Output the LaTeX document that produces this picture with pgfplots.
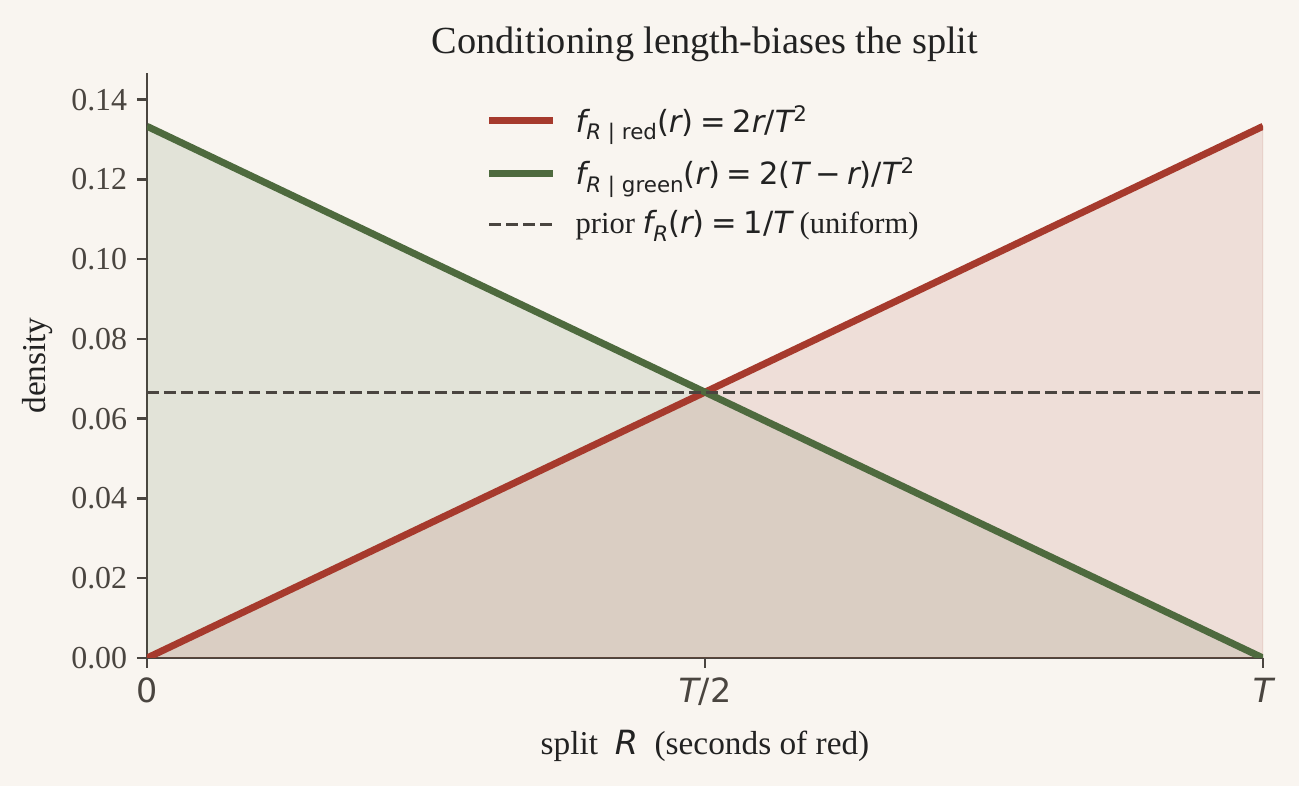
\documentclass[border=0pt]{standalone}
\usepackage{pgfplots}
\pgfplotsset{compat=1.18}
\usepackage{fontspec}
\setmainfont{Liberation Serif}
\newfontfamily\dv{DejaVu Sans}
\definecolor{bg}{HTML}{F9F5F0}
\definecolor{redc}{HTML}{A63A2D}
\definecolor{greenc}{HTML}{4E6A3E}
\definecolor{axc}{HTML}{4A4540}
\definecolor{titlec}{HTML}{222222}
\newcommand{\sub}[1]{\raisebox{-0.45ex}{\fontsize{7.7}{8}\selectfont #1}}
\newcommand{\eq}{\hspace{0.22em}=\hspace{0.22em}}
\begin{document}
\begin{tikzpicture}
\path[use as bounding box, fill=bg] (-52.92pt,-46.08pt) rectangle (414.72pt,236.88pt);
\begin{axis}[at={(0,0)}, anchor=south west, scale only axis,
  width=401.76pt, height=210.6pt,
  xmin=0, xmax=15, ymin=0, ymax=0.1467,
  axis x line*=bottom, axis y line*=left,
  axis line style={draw=axc, line width=0.9pt, -},
  tick style={draw=axc, line width=0.9pt},
  tick align=outside, major tick length=3.6pt,
  xtick={0,7.5,15},
  xticklabels={{\dv 0},{\dv\itshape T\upshape/2},{\dv\itshape T}},
  xticklabel style={font=\fontsize{12}{14}\selectfont, text=axc},
  ytick={0,0.02,0.04,0.06,0.08,0.10,0.12,0.14},
  scaled y ticks=false,
  yticklabel style={/pgf/number format/fixed, /pgf/number format/fixed zerofill, /pgf/number format/precision=2, /pgf/number format/assume math mode=true},
  yticklabel style={font=\fontsize{11.5}{13}\selectfont, text=axc},
  xlabel={split \ {\dv\itshape R}\ \ (seconds of red)},
  xlabel style={yshift=-1.8pt},
  ylabel={density},
  label style={font=\fontsize{12}{14}\selectfont, text=titlec},
  title={Conditioning length-biases the split},
  title style={font=\fontsize{13.8}{15}\selectfont, text=titlec, yshift=-5.4pt},
  legend style={draw=none, fill=none, at={(0.5,0.965)}, anchor=north,
    font=\fontsize{11}{13}\selectfont, text=titlec, row sep=3.8pt},
  legend cell align=left,
  legend image code/.code={\draw[#1] (0cm,0cm) -- (0.8cm,0cm); \path (0.8cm+5pt,0cm);},
]
\addplot[draw=none, fill=greenc, fill opacity=0.13, forget plot] coordinates {(0,0.133333) (15,0)} \closedcycle;
\addplot[draw=redc, draw opacity=0.12, fill=redc, fill opacity=0.12, forget plot] coordinates {(0,0) (15,0.133333)} \closedcycle;
\addplot[redc, line width=2.5pt] coordinates {(0,0) (15,0.133333)};
\addlegendentry{{\dv\itshape f\sub{R \upshape| red}\upshape(\itshape r\upshape)\eq 2\itshape r\upshape/\itshape T\upshape\textsuperscript{2}}}
\addplot[greenc, line width=2.5pt] coordinates {(0,0.133333) (15,0)};
\addlegendentry{{\dv\itshape f\sub{R \upshape| green}\upshape(\itshape r\upshape)\eq 2(\itshape T\upshape\hspace{0.2em}−\hspace{0.2em}\itshape r\upshape)/\itshape T\upshape\textsuperscript{2}}}
\addplot[axc, line width=1.1pt, dash pattern=on 4.2pt off 1.9pt] coordinates {(0,0.0666667) (15,0.0666667)};
\addlegendentry{prior {\dv\itshape f\sub{R}\upshape(\itshape r\upshape)\eq 1/\itshape T}\upshape{} (uniform)}
\end{axis}
\end{tikzpicture}
\end{document}
